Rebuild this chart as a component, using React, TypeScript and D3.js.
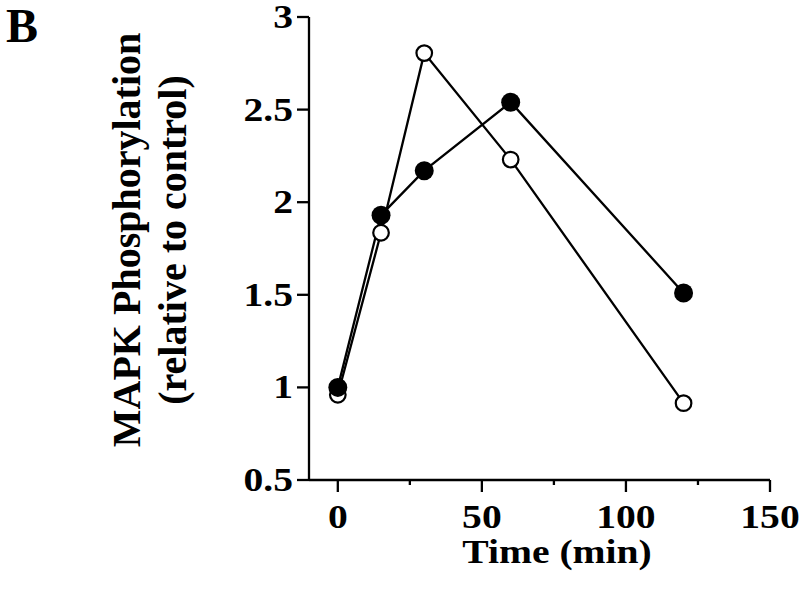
import React from "react";
import * as d3 from "d3";

// time points (min) and MAPK phosphorylation relative to control
const times = [0, 15, 30, 60, 120];
const filledSeries = [1.0, 1.93, 2.17, 2.54, 1.51];
const openSeries = [0.96, 1.835, 2.805, 2.23, 0.915];

const xMajorTicks = [0, 50, 100, 150];
const xMinorTicks = [25, 75, 125];
const yTicks = [0.5, 1, 1.5, 2, 2.5, 3];

const font = "Liberation Serif";

function Stretch({ x, y, anchor, size, children }) {
  return (
    <text
      transform={`translate(${x},${y}) scale(1.2,1)`}
      textAnchor={anchor}
      fontFamily={font}
      fontWeight="bold"
      fontSize={size}
      fill="#000"
    >
      {children}
    </text>
  );
}

export default function App() {
  const width = 800;
  const height = 597;

  const x = d3.scaleLinear().domain([-10, 150]).range([309, 770]);
  const y = d3.scaleLinear().domain([0.5, 3]).range([480, 17]);

  const filled = times.map((t, i) => ({ t, v: filledSeries[i] }));
  const open = times.map((t, i) => ({ t, v: openSeries[i] }));

  const line = d3
    .line<{ t: number; v: number }>()
    .x((d) => x(d.t))
    .y((d) => y(d.v));

  const [x0, x1] = x.range();
  const [yb, yt] = y.range();

  return (
    <svg
      width={width}
      height={height}
      style={{ position: "absolute", left: 0, top: 0, background: "#fff" }}
    >
      <rect width={width} height={height} fill="#fff" />
      <text x={6} y={42} fontFamily={font} fontWeight="bold" fontSize={48}>
        B
      </text>

      {/* y label */}
      <g fontFamily={font} fontWeight="bold" fontSize={40} textAnchor="middle">
        <text transform={`translate(140,240) rotate(-90)`}>MAPK Phosphorylation</text>
        <text transform={`translate(186,240) rotate(-90)`}>(relative to control)</text>
      </g>

      {/* axes */}
      <g stroke="#000" strokeWidth={2.3}>
        <line x1={x0} x2={x1} y1={yb} y2={yb} />
        <line x1={x0} x2={x0} y1={yb} y2={yt} />
        {xMajorTicks.map((t) => (
          <line key={t} x1={x(t)} x2={x(t)} y1={yb} y2={yb + 12} />
        ))}
        {xMinorTicks.map((t) => (
          <line key={t} x1={x(t)} x2={x(t)} y1={yb} y2={yb + 5} />
        ))}
        {yTicks.map((t) => (
          <line key={t} x1={x0 - 12} x2={x0} y1={y(t)} y2={y(t)} />
        ))}
      </g>

      {xMajorTicks.map((t) => (
        <Stretch key={t} x={x(t)} y={528} anchor="middle" size={33}>
          {t}
        </Stretch>
      ))}
      {yTicks.map((t) => (
        <Stretch key={t} x={293} y={y(t) + 11} anchor="end" size={33}>
          {t}
        </Stretch>
      ))}

      <Stretch x={557} y={563} anchor="middle" size={33}>
        Time (min)
      </Stretch>

      {/* series */}
      <path d={line(filled) || ""} fill="none" stroke="#000" strokeWidth={2.3} />
      <path d={line(open) || ""} fill="none" stroke="#000" strokeWidth={2.3} />
      {open.map((d) => (
        <circle key={"o" + d.t} cx={x(d.t)} cy={y(d.v)} r={7.8} fill="#fff" stroke="#000" strokeWidth={2.2} />
      ))}
      {filled.map((d) => (
        <circle key={"f" + d.t} cx={x(d.t)} cy={y(d.v)} r={9.5} fill="#000" />
      ))}
    </svg>
  );
}
